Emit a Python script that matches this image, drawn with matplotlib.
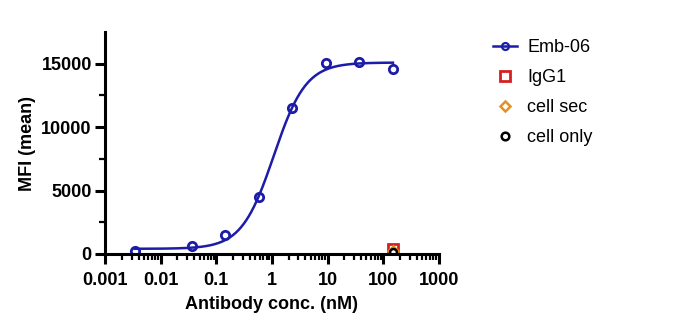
import matplotlib.pyplot as plt
import numpy as np

plt.rcParams['font.family'] = ['Liberation Sans', 'DejaVu Sans']

# Données Emb-06
conc = [0.0034, 0.0366, 0.146, 0.586, 2.34, 9.4, 37.5, 150]
mfi = [200, 600, 1500, 4500, 11500, 15100, 15150, 14600]

# Contrôles (à 150 nM)
igg1_x, igg1_y = [150], [350]
sec_x, sec_y = [150], [220]
only_x, only_y = [150], [130]

# Paramètres de l'ajustement 4PL
bottom, top, ec50, hill = 400, 15100, 1.08, 1.5

def fit(x):
    return bottom + (top - bottom) / (1 + (ec50 / x) ** hill)

blue = "#1c1ca8"
fig = plt.figure(figsize=(6.91, 3.28), dpi=100)
ax = fig.add_axes([0.152, 0.226, 0.483, 0.676])

xs = np.logspace(np.log10(conc[0]), np.log10(conc[-1]), 300)
ax.plot(xs, fit(xs), color=blue, lw=1.8)
ax.plot(conc, mfi, 'o', ms=6, mfc='none', mec=blue, mew=2)
ax.plot(igg1_x, igg1_y, 's', ms=7, mfc='none', mec="#d62020", mew=2)
ax.plot(sec_x, sec_y, 'D', ms=5, mfc='none', mec="#e8901e", mew=1.8)
ax.plot(only_x, only_y, 'o', ms=5, mfc='none', mec="black", mew=1.8)

# Légende
h1, = ax.plot([], [], '-o', color=blue, ms=5, mfc='none', mew=1.6, lw=1.8)
h2, = ax.plot([], [], 's', ms=6.5, mfc='none', mec="#d62020", mew=2)
h3, = ax.plot([], [], 'D', ms=5, mfc='none', mec="#e8901e", mew=1.8)
h4, = ax.plot([], [], 'o', ms=5.5, mfc='none', mec="black", mew=1.8)
fig.legend([h1, h2, h3, h4], ["Emb-06", "IgG1", "cell sec", "cell only"],
           loc='upper left', bbox_to_anchor=(0.69, 0.93), frameon=False,
           fontsize=13, handlelength=1.3, labelspacing=0.72, handletextpad=0.6)

ax.set_xscale('log')
ax.set_xlim(0.001, 1000)
ax.set_ylim(0, 17500)
ax.set_xticks([0.001, 0.01, 0.1, 1, 10, 100, 1000])
ax.set_xticklabels(["0.001", "0.01", "0.1", "1", "10", "100", "1000"])
ax.set_yticks([0, 5000, 10000, 15000])
ax.set_yticks([2500, 7500, 12500], minor=True)

for s in ['top', 'right']:
    ax.spines[s].set_visible(False)
for s in ['left', 'bottom']:
    ax.spines[s].set_linewidth(2.2)

ax.tick_params(which='major', length=7, width=2.2, labelsize=13)
ax.tick_params(axis='x', which='major', pad=6)
ax.tick_params(axis='y', which='major', pad=2.5)
ax.tick_params(which='minor', length=4, width=1.6)
for lab in ax.get_xticklabels() + ax.get_yticklabels():
    lab.set_fontweight('bold')

ax.set_xlabel("Antibody conc. (nM)", fontsize=13, fontweight='bold', labelpad=5)
ax.set_ylabel("MFI (mean)", fontsize=13, fontweight='bold', labelpad=4)

fig.savefig("out.png", dpi=100)
